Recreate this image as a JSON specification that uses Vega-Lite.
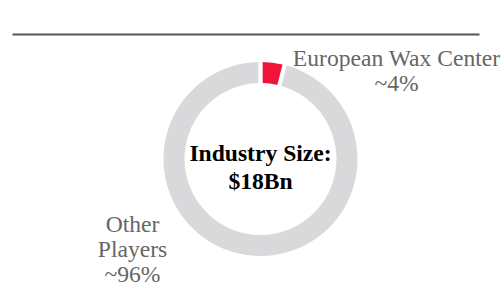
{
  "$schema": "https://vega.github.io/schema/vega-lite/v6.json",
  "width": 487,
  "height": 250,
  "autosize": {"type": "none"},
  "padding": {"left": 17, "top": 34, "right": 0, "bottom": 3},
  "background": "white",
  "config": {"view": {"stroke": null}},
  "data": {
    "values": [
      {"company": "European Wax Center", "share": 4, "label": "European Wax Center\n~4%"},
      {"company": "Other Players", "share": 96, "label": "Other\nPlayers\n~96%"}
    ]
  },
  "layer": [
    {
      "mark": {"type": "arc", "outerRadius": 97, "innerRadius": 76, "padAngle": 0.035},
      "encoding": {
        "theta": {"field": "share", "type": "quantitative", "stack": true},
        "order": {"field": "company", "type": "ordinal", "sort": "ascending"},
        "color": {
          "field": "company",
          "type": "nominal",
          "scale": {"domain": ["European Wax Center", "Other Players"], "range": ["#f0143c", "#d9d9db"]},
          "legend": null
        }
      }
    },
    {
      "mark": {
        "type": "text",
        "radius": 156.0,
        "thetaOffset": 0.883,
        "dx": 4,
        "dy": -10.15,
        "font": "Liberation Serif",
        "fontSize": 23.6,
        "lineHeight": 25,
        "lineBreak": "\n",
        "align": "center",
        "baseline": "alphabetic",
        "color": "#666666"
      },
      "encoding": {
        "theta": {"field": "share", "type": "quantitative", "stack": true},
        "order": {"field": "company", "type": "ordinal", "sort": "ascending"},
        "detail": {"field": "company", "type": "nominal"},
        "text": {"field": "label", "type": "nominal"}
      }
    },
    {
      "data": {"values": [{"caption": "Industry Size:\n$18Bn"}]},
      "mark": {
        "type": "text",
        "font": "Liberation Serif",
        "fontWeight": "bold",
        "fontSize": 23.6,
        "lineHeight": 27.6,
        "lineBreak": "\n",
        "align": "center",
        "baseline": "alphabetic",
        "dy": 2,
        "color": "#000000"
      },
      "encoding": {"text": {"field": "caption", "type": "nominal"}}
    },
    {
      "data": {"values": [{"edge": 0}]},
      "mark": {"type": "rule", "opacity": 0},
      "encoding": {
        "x": {
          "field": "edge",
          "type": "quantitative",
          "scale": {"domain": [0, 1], "range": [-5, 462]},
          "axis": {"orient": "top", "domain": true, "domainColor": "#555555", "domainWidth": 2, "ticks": false, "labels": false, "grid": false, "title": null}
        }
      }
    }
  ]
}
